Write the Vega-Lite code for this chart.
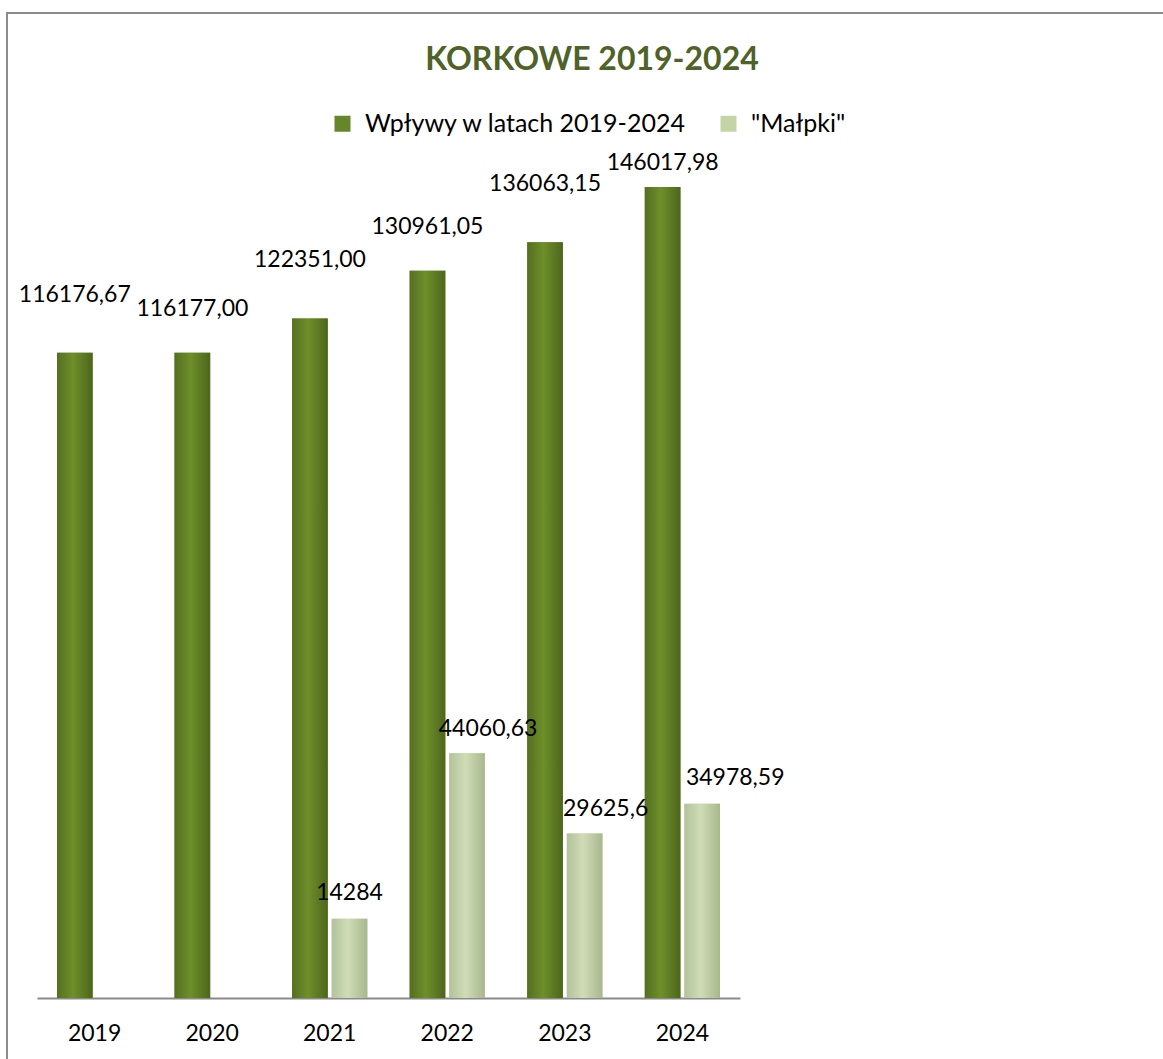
{
  "$schema": "https://vega.github.io/schema/vega-lite/v6.json",
  "autosize": {"type": "none"},
  "padding": {"left": 7, "top": 13, "right": 0, "bottom": 0},
  "width": 1160,
  "height": 1060,
  "background": "white",
  "config": {
    "font": "Lato",
    "view": {"stroke": "#8c8c8c", "strokeWidth": 2},
    "text": {"font": "Lato", "fontSize": 23, "color": "black", "baseline": "middle", "align": "center"}
  },
  "title": {
    "text": "KORKOWE 2019-2024",
    "font": "Lato",
    "fontSize": 32,
    "fontWeight": "bold",
    "color": "#4F6228",
    "anchor": "middle",
    "frame": "group",
    "orient": "top",
    "offset": 0,
    "baseline": "middle",
    "dx": 5,
    "dy": 79
  },
  "data": {
    "values": [
      {"year": "2019", "series": "Wpływy w latach  2019-2024", "value": 116176.67, "label": "116176,67", "grp": "dA"},
      {"year": "2020", "series": "Wpływy w latach  2019-2024", "value": 116177.00, "label": "116177,00", "grp": "dB"},
      {"year": "2021", "series": "Wpływy w latach  2019-2024", "value": 122351.00, "label": "122351,00", "grp": "dA"},
      {"year": "2022", "series": "Wpływy w latach  2019-2024", "value": 130961.05, "label": "130961,05", "grp": "dB"},
      {"year": "2023", "series": "Wpływy w latach  2019-2024", "value": 136063.15, "label": "136063,15", "grp": "dA"},
      {"year": "2024", "series": "Wpływy w latach  2019-2024", "value": 146017.98, "label": "146017,98", "grp": "dC"},
      {"year": "2021", "series": "\"Małpki\"", "value": 14284, "label": "14284", "grp": "lA"},
      {"year": "2022", "series": "\"Małpki\"", "value": 44060.63, "label": "44060,63", "grp": "lB"},
      {"year": "2023", "series": "\"Małpki\"", "value": 29625.6, "label": "29625,6", "grp": "lB"},
      {"year": "2024", "series": "\"Małpki\"", "value": 34978.59, "label": "34978,59", "grp": "lC"}
    ]
  },
  "encoding": {
    "x": {
      "field": "year",
      "type": "nominal",
      "scale": {"range": [30, 733], "paddingInner": 0.36, "paddingOuter": 0.17},
      "axis": {
        "title": null,
        "labelAngle": 0,
        "labelFont": "Lato",
        "labelFontSize": 23,
        "labelColor": "black",
        "ticks": false,
        "labelPadding": 24,
        "domainColor": "#8a8a8a",
        "domainWidth": 2,
        "offset": -75,
        "grid": false
      }
    },
    "xOffset": {
      "field": "series",
      "type": "nominal",
      "scale": {"domain": ["Wpływy w latach  2019-2024", "\"Małpki\""], "paddingInner": 0.1}
    },
    "y": {
      "field": "value",
      "type": "quantitative",
      "scale": {"domain": [0, 160000], "nice": false, "range": [985, 96.4]},
      "axis": null
    }
  },
  "layer": [
    {
      "mark": {"type": "bar"},
      "encoding": {
        "color": {
          "field": "series",
          "type": "nominal",
          "scale": {"domain": ["Wpływy w latach  2019-2024", "\"Małpki\""], "range": ["#66862a", "#c4d4a6"]},
          "legend": {
            "title": null,
            "orient": "none",
            "legendX": 323,
            "legendY": 98,
            "direction": "horizontal",
            "symbolType": "square",
            "symbolSize": 256,
            "symbolStrokeWidth": 0,
            "labelFont": "Lato",
            "labelFontSize": 25,
            "labelColor": "black",
            "labelOffset": 10,
            "labelLimit": 0,
            "columnPadding": 23,
            "padding": 0
          }
        }
      }
    },
    {
      "transform": [{"filter": "datum.series !== '\"Małpki\"'"}],
      "mark": {
        "type": "bar",
        "color": {
          "gradient": "linear", "x1": 0, "y1": 0, "x2": 1, "y2": 0,
          "stops": [
            {"offset": 0, "color": "#556f20"},
            {"offset": 0.45, "color": "#6e8f2a"},
            {"offset": 1, "color": "#4d661c"}
          ]
        }
      }
    },
    {
      "transform": [{"filter": "datum.series === '\"Małpki\"'"}],
      "mark": {
        "type": "bar",
        "color": {
          "gradient": "linear", "x1": 0, "y1": 0, "x2": 1, "y2": 0,
          "stops": [
            {"offset": 0, "color": "#b3c29c"},
            {"offset": 0.45, "color": "#cfdcb5"},
            {"offset": 1, "color": "#a9b78f"}
          ]
        }
      }
    },
    {
      "transform": [{"filter": "datum.grp === 'dA'"}],
      "mark": {"type": "text", "dy": -58},
      "encoding": {"text": {"field": "label"}}
    },
    {
      "transform": [{"filter": "datum.grp === 'dB'"}],
      "mark": {"type": "text", "dy": -44},
      "encoding": {"text": {"field": "label"}}
    },
    {
      "transform": [{"filter": "datum.grp === 'dC'"}],
      "mark": {"type": "text", "dy": -24},
      "encoding": {"text": {"field": "label"}}
    },
    {
      "transform": [{"filter": "datum.grp === 'lA'"}],
      "mark": {"type": "text", "dy": -26},
      "encoding": {"text": {"field": "label"}}
    },
    {
      "transform": [{"filter": "datum.grp === 'lB'"}],
      "mark": {"type": "text", "dy": -24, "dx": 21},
      "encoding": {"text": {"field": "label"}}
    },
    {
      "transform": [{"filter": "datum.grp === 'lC'"}],
      "mark": {"type": "text", "dy": -26, "dx": 33},
      "encoding": {"text": {"field": "label"}}
    }
  ]
}
